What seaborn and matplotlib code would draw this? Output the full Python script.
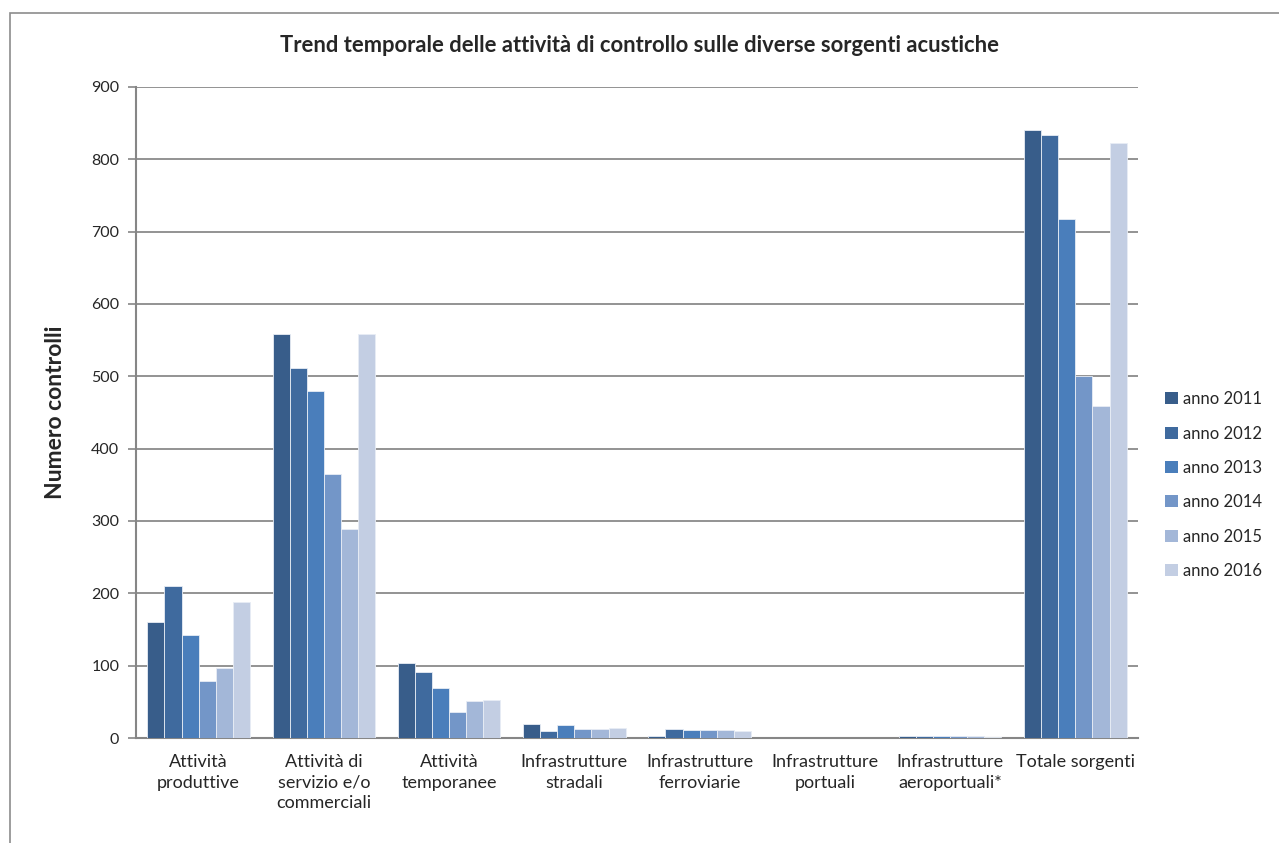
import matplotlib
matplotlib.use("Agg")
import matplotlib.pyplot as plt
from matplotlib.patches import Rectangle
import pandas as pd
import seaborn as sns

categorie = [
    "Attività\nproduttive",
    "Attività di\nservizio e/o\ncommerciali",
    "Attività\ntemporanee",
    "Infrastrutture\nstradali",
    "Infrastrutture\nferroviarie",
    "Infrastrutture\nportuali",
    "Infrastrutture\naeroportuali*",
    "Totale sorgenti",
]
anni = ["anno 2011", "anno 2012", "anno 2013", "anno 2014", "anno 2015", "anno 2016"]

v2011 = [160, 559, 103, 20, 3, 0, 3, 840]
v2012 = [210, 512, 91, 10, 13, 0, 3, 834]
v2013 = [143, 480, 69, 18, 11, 0, 3, 718]
v2014 = [79, 365, 36, 12, 11, 0, 3, 500]
v2015 = [97, 289, 51, 12, 11, 0, 3, 459]
v2016 = [188, 559, 52, 14, 9, 0, 2, 822]

colori = ["#385D8A", "#3F6A9E", "#4A7EBB", "#7396C8", "#A3B7D8", "#C3CEE3"]

serie = [v2011, v2012, v2013, v2014, v2015, v2016]
rows = []
for anno, vals in zip(anni, serie):
    for cat, v in zip(categorie, vals):
        rows.append({"categoria": cat, "anno": anno, "valore": v})
df = pd.DataFrame(rows)

sns.set_style("white")
plt.rcParams["font.family"] = ["Lato", "DejaVu Sans"]

fig = plt.figure(figsize=(12.79, 8.43), dpi=100)
ax = fig.add_axes([136 / 1279, 1 - 738 / 843, (1138 - 136) / 1279, (738 - 87) / 843])

# outer frame like the spreadsheet chart area
fig.patches.append(Rectangle((10 / 1279, -0.1), 1.2, 1 - 13 / 843 + 0.1,
                             transform=fig.transFigure, fill=False,
                             edgecolor="#8c8c8c", linewidth=1.2))

sns.barplot(data=df, x="categoria", y="valore", hue="anno", palette=colori,
            width=0.82, saturation=1, edgecolor="#e8edf5", linewidth=0.6,
            ax=ax, zorder=3)
# no outline on empty bars
for p in ax.patches:
    if p.get_height() == 0:
        p.set_linewidth(0)

ax.set_ylim(0, 900)
ax.set_yticks(range(0, 901, 100))
ax.yaxis.grid(True, color="#8a8a8a", linewidth=1.3, zorder=0)
ax.set_axisbelow(True)
ax.set_xlim(-0.5, len(categorie) - 0.5)
for s in ["top", "right"]:
    ax.spines[s].set_visible(False)
for s in ["left", "bottom"]:
    ax.spines[s].set_color("#868686")
    ax.spines[s].set_linewidth(1.5)
    ax.spines[s].set_zorder(2)
ax.tick_params(axis="y", left=True, length=6, color="#868686", width=1.2,
               labelsize=11.5, pad=6)
ax.tick_params(axis="x", bottom=False, labelsize=13, pad=8)
for t in ax.get_xticklabels():
    t.set_linespacing(1.35)
ax.set_xlabel("")
ax.set_ylabel("")

fig.text(55 / 1279, 1 - 412 / 843, "Numero controlli", rotation=90,
         ha="center", va="center", fontsize=16.5, fontweight="bold")
fig.text(640 / 1279, 1 - 45 / 843,
         "Trend temporale delle attività di controllo sulle diverse sorgenti acustiche",
         ha="center", va="center", fontsize=15.8, fontweight="bold")

handles, labels = ax.get_legend_handles_labels()
ax.legend(handles, labels, loc="center left",
          bbox_to_anchor=(1150 / 1279, 1 - 485 / 843),
          bbox_transform=fig.transFigure, frameon=False, fontsize=12,
          handlelength=0.75, handleheight=0.75, handletextpad=0.35,
          labelspacing=1.1)

fig.savefig("out.png", dpi=100)
